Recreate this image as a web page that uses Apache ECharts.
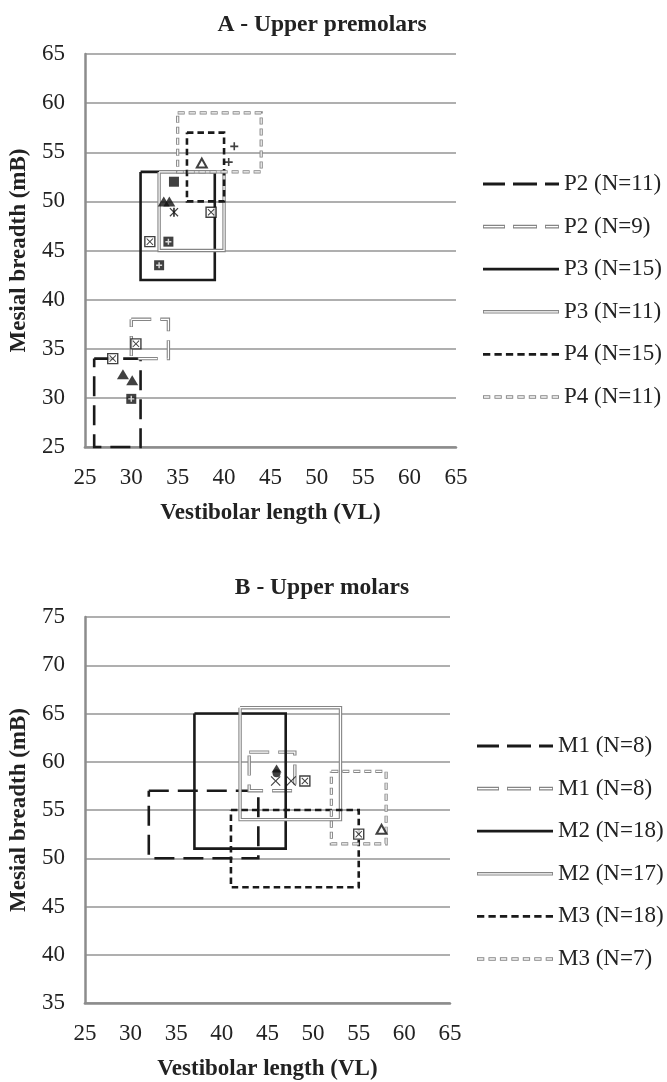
<!DOCTYPE html>
<html><head><meta charset="utf-8">
<script src="https://cdn.jsdelivr.net/npm/echarts@6/dist/echarts.min.js"></script>
<style>html,body{margin:0;padding:0;background:#fff}#c{width:667px;height:1082px}</style>
</head><body><div id="c"></div>
<script>
// ---------- DATA ----------
const xTicks = [25, 30, 35, 40, 45, 50, 55, 60, 65];
const yTicksA = [25, 30, 35, 40, 45, 50, 55, 60, 65];
const yTicksB = [35, 40, 45, 50, 55, 60, 65, 70, 75];

const titleA = 'A - Upper premolars';
const titleB = 'B - Upper molars';
const xName = 'Vestibolar length (VL)';
const yName = 'Mesial breadth (mB)';

// Panel A rectangles (VL range, mB range)
const premolarNames = ['P2 (N=11)', 'P2 (N=9)', 'P3 (N=15)', 'P3 (N=11)', 'P4 (N=15)', 'P4 (N=11)'];
const premolarVL = [[26, 31], [30, 34], [31, 39], [33, 40], [36, 40], [35, 44]];
const premolarMB = [[25, 34], [34, 38], [42, 53], [45, 53], [50, 57], [53, 59]];

// Panel A individual points
const premolarCrossBox = [[28, 34], [30.5, 35.5], [32, 45.9], [38.6, 48.9]];
const premolarPlusBox = [[30, 29.9], [34, 45.9], [33, 43.5]];
const premolarTriangle = [[29.1, 32.4], [30.1, 31.8], [33.5, 50], [34.1, 50]];
const premolarSquare = [[34.6, 52]];
const premolarStar = [[34.6, 48.9]];
const premolarOpenTriangle = [[37.6, 53.9]];
const premolarPlus = [[40.5, 54], [41.1, 55.6]];

// Panel B rectangles
const molarNames = ['M1 (N=8)', 'M1 (N=8)', 'M2 (N=18)', 'M2 (N=17)', 'M3 (N=18)', 'M3 (N=7)'];
const molarVL = [[32, 44], [43, 48], [37, 47], [42, 53], [41, 55], [52, 58]];
const molarMB = [[50, 57], [57, 61], [51, 65], [54, 65.6], [47, 55], [51.5, 59]];

// Panel B individual points
const molarTriangle = [[46, 59.3]];
const molarDot = [[46, 58.8]];
const molarCross = [[45.9, 58], [47.6, 58]];
const molarCrossBox = [[49.1, 58], [55, 52.5]];
const molarOpenTriangle = [[57.5, 53]];

// ---------- STYLES ----------
const BLACK = '#1a1a1a', GRAY = '#858585';
const rectStyleOrder = ['blackLong', 'grayLong', 'blackSolid', 'graySolid', 'blackShort', 'grayShort'];
const STY = {
  blackLong:  {color: BLACK, width: 2.6, dash: [20, 9], dbl: false},
  grayLong:   {color: GRAY, width: 3.4, dash: [20, 9], dbl: true},
  blackSolid: {color: BLACK, width: 2.6, dash: null, dbl: false},
  graySolid:  {color: GRAY, width: 3.4, dash: null, dbl: true},
  blackShort: {color: BLACK, width: 2.6, dash: [6.5, 4], dbl: false},
  grayShort:  {color: GRAY, width: 3.2, dash: [7, 4], dbl: true}
};
const legendSegs = {
  long: [[0, 22], [30, 54], [62, 76]],
  solid: [[0, 76]],
  short: [0,1,2,3,4,5,6].map(i => [i * 11.45, i * 11.45 + 7.3])
};
const legendIconSpec = {
  blackLong: ['long', 2.8, false], grayLong: ['long', 3.6, true],
  blackSolid: ['solid', 2.8, false], graySolid: ['solid', 3.6, true],
  blackShort: ['short', 2.8, false], grayShort: ['short', 3.4, true]
};
function iconPath(key) {
  const [segKey, t, hole] = legendIconSpec[key];
  let p = '';
  legendSegs[segKey].forEach(([a, b]) => {
    p += `M${a},0H${b}V${t}H${a}Z`;
    if (hole) {
      const i0 = (t - 1.3) / 2, i1 = i0 + 1.3;
      p += `M${a + 0.9},${i0}V${i1}H${b - 0.9}V${i0}Z`;
    }
  });
  return 'path://' + p;
}

const FONT = 'Liberation Serif';
const TXT = '#222';

function rectSeries(label, key, vl, mb, gi) {
  const s = STY[key];
  const pts = [[vl[0], mb[1]], [vl[1], mb[1]], [vl[1], mb[0]], [vl[0], mb[0]], [vl[0], mb[1]]];
  const out = [{
    type: 'line', name: label, xAxisIndex: gi, yAxisIndex: gi, data: pts,
    symbol: 'none', clip: false, silent: true, animation: false, z: 2,
    color: s.color,
    lineStyle: {color: s.color, width: s.width, type: s.dash || 'solid', cap: 'butt', join: 'miter'}
  }];
  if (s.dbl) {
    let inner = 'solid', off = 0;
    if (s.dash) {
      const per = s.dash[0] + s.dash[1];
      inner = [s.dash[0] - 1.4, s.dash[1] + 1.4];
      off = per - 0.7;
    }
    out.push({
      type: 'line', name: label + '~inner', xAxisIndex: gi, yAxisIndex: gi, data: pts,
      symbol: 'none', clip: false, silent: true, animation: false, z: 2,
      color: '#fff',
      lineStyle: {color: '#fff', width: 1.2, type: inner, dashOffset: off, cap: 'butt', join: 'miter'}
    });
  }
  return out;
}

const XPATH = 'path://M1,0L5,4L9,0L10,1L6,5L10,9L9,10L5,6L1,10L0,9L4,5L0,1Z';
const XTHIN = 'path://M0.8,0L5,4.2L9.2,0L10,0.8L5.8,5L10,9.2L9.2,10L5,5.8L0.8,10L0,9.2L4.2,5L0,0.8Z';
const PLUSPATH = 'path://M3.8,0H6.2V3.8H10V6.2H6.2V10H3.8V6.2H0V3.8H3.8Z';
const PLUSTHIN = 'path://M4,0H6V4H10V6H6V10H4V6H0V4H4Z';

function sc(gi, data, symbol, size, itemStyle, z) {
  return {type: 'scatter', xAxisIndex: gi, yAxisIndex: gi, data, symbol, symbolSize: size,
    itemStyle: Object.assign({borderWidth: 0}, itemStyle), z: z || 5, silent: true, animation: false};
}
const blk = {color: '#111'};
function crossBox(gi, d) { return [sc(gi, d, 'rect', 10, {color: '#fff', borderColor: '#111', borderWidth: 1.4}), sc(gi, d, XPATH, 7, blk, 6)]; }
function plusBox(gi, d) { return [sc(gi, d, 'rect', 10, blk), sc(gi, d, PLUSPATH, 6, {color: '#fff'}, 6)]; }

const series = [];
const legendA = [], legendB = [];
premolarNames.forEach((n, i) => {
  const key = rectStyleOrder[i];
  const name = n + '|A' + i;
  series.push(...rectSeries(name, key, premolarVL[i], premolarMB[i], 0));
  legendA.push({name, icon: iconPath(key), itemStyle: {color: STY[key].color, borderWidth: 0}});
});
molarNames.forEach((n, i) => {
  const key = rectStyleOrder[i];
  const name = n + '|B' + i;
  series.push(...rectSeries(name, key, molarVL[i], molarMB[i], 1));
  legendB.push({name, icon: iconPath(key), itemStyle: {color: STY[key].color, borderWidth: 0}});
});

// markers A
series.push(...crossBox(0, premolarCrossBox));
series.push(...plusBox(0, premolarPlusBox));
series.push(sc(0, premolarTriangle, 'triangle', [12, 10], blk));
series.push(sc(0, premolarSquare, 'rect', 10, blk));
series.push(sc(0, premolarStar, XPATH, 9, blk), sc(0, premolarStar, 'rect', [1.8, 9], blk));
series.push(sc(0, premolarOpenTriangle, 'emptyTriangle', [10, 9], {color: '#111', borderWidth: 1.5}));
series.push(sc(0, premolarPlus, PLUSTHIN, 8, blk));
// markers B
series.push(sc(1, molarTriangle, 'triangle', [10, 8], blk));
series.push(sc(1, molarDot, 'circle', 8, blk));
series.push(sc(1, molarCross, XTHIN, 10, blk));
series.push(...crossBox(1, molarCrossBox));
series.push(sc(1, molarOpenTriangle, 'emptyTriangle', [10, 9], {color: '#111', borderWidth: 1.5}));

function xAxis(gi) {
  return {
    type: 'value', gridIndex: gi, min: xTicks[0], max: xTicks[xTicks.length - 1], interval: xTicks[1] - xTicks[0],
    name: xName, nameLocation: 'middle', nameGap: 55,
    nameTextStyle: {fontFamily: FONT, fontSize: 23, fontWeight: 'bold', color: TXT},
    axisLine: {show: true, onZero: false, lineStyle: {color: '#8c8c8c', width: 2.5}},
    axisTick: {show: false}, splitLine: {show: false},
    axisLabel: {fontFamily: FONT, fontSize: 23, color: TXT, margin: 19}
  };
}
function yAxis(gi, ticks) {
  return {
    type: 'value', gridIndex: gi, min: ticks[0], max: ticks[ticks.length - 1], interval: ticks[1] - ticks[0],
    name: yName, nameLocation: 'middle', nameGap: 50,
    nameTextStyle: {fontFamily: FONT, fontSize: 23, fontWeight: 'bold', color: TXT},
    axisLine: {show: true, onZero: false, lineStyle: {color: '#8c8c8c', width: 2.5}},
    axisTick: {show: false},
    splitLine: {show: true, lineStyle: {color: '#959595', width: 1.5}},
    axisLabel: {fontFamily: FONT, fontSize: 23, color: TXT, margin: 20}
  };
}
function legend(data, left, top) {
  return {
    data, left, top, orient: 'vertical', itemWidth: 76, itemHeight: 14, itemGap: 18.6, padding: 0,
    selectedMode: false, symbolKeepAspect: true,
    formatter: n => n.split('|')[0],
    textStyle: {fontFamily: FONT, fontSize: 23, color: TXT, lineHeight: 24}
  };
}

const chart = echarts.init(document.getElementById('c'));
chart.setOption({
  animation: false,
  backgroundColor: '#fff',
  title: [
    {text: titleA, left: 322, top: 13, textAlign: 'center', padding: 0,
     textStyle: {fontFamily: FONT, fontSize: 23.5, fontWeight: 'bold', color: TXT}},
    {text: titleB, left: 322, top: 576, textAlign: 'center', padding: 0,
     textStyle: {fontFamily: FONT, fontSize: 23.5, fontWeight: 'bold', color: TXT}}
  ],
  legend: [legend(legendA, 483, 172), legend(legendB, 477, 734)],
  grid: [
    {left: 82, top: 54, width: 374, height: 393, containLabel: false},
    {left: 82, top: 617, width: 368, height: 392, containLabel: false}
  ],
  xAxis: [xAxis(0), xAxis(1)],
  yAxis: [yAxis(0, yTicksA), yAxis(1, yTicksB)],
  series
});
</script></body></html>
